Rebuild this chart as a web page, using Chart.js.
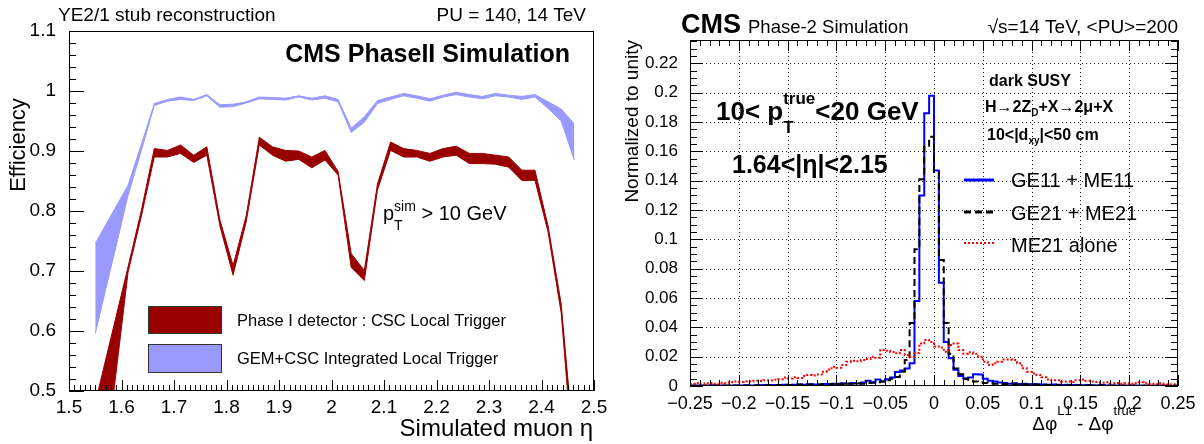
<!DOCTYPE html>
<html>
<head>
<meta charset="utf-8">
<script src="https://cdn.jsdelivr.net/npm/chart.js@4.4.0/dist/chart.umd.min.js"></script>
<style>
    html, body { margin: 0; padding: 0; background: #fff; }
    #wrap { position: relative; width: 1204px; height: 444px; overflow: hidden; }
    #left { position: absolute; left: 0; top: 0; }
    #right { position: absolute; left: 610px; top: 0; }
</style>
</head>
<body>
<div id="wrap">
    <canvas id="left" width="610" height="444"></canvas>
    <canvas id="right" width="594" height="444"></canvas>
</div>
<script>
// Left panel : stub reconstruction efficiency vs simulated muon eta
var etaPoints = [1.55, 1.6125, 1.6375, 1.6625, 1.6875, 1.7125, 1.7375, 1.7625, 1.7875, 1.8125, 1.8375, 1.8625,
    1.8875, 1.9125, 1.9375, 1.9625, 1.9875, 2.0125, 2.0375, 2.0625, 2.0875, 2.1125, 2.1375, 2.1625, 2.1875,
    2.2125, 2.2375, 2.2625, 2.2875, 2.3125, 2.3375, 2.3625, 2.3875, 2.4125, 2.4375, 2.4625];
var cscLow = [0.24, 0.698, 0.790, 0.890, 0.890, 0.896, 0.881, 0.893, 0.775, 0.693, 0.782, 0.910,
    0.893, 0.883, 0.886, 0.872, 0.885, 0.860, 0.706, 0.684, 0.835, 0.901, 0.890, 0.890, 0.883,
    0.890, 0.893, 0.879, 0.879, 0.878, 0.873, 0.851, 0.851, 0.765, 0.630, 0.36];
var cscHigh = [0.48, 0.707, 0.800, 0.904, 0.901, 0.910, 0.893, 0.907, 0.785, 0.709, 0.792, 0.923,
    0.907, 0.901, 0.900, 0.890, 0.901, 0.866, 0.729, 0.701, 0.845, 0.915, 0.904, 0.901, 0.896,
    0.904, 0.908, 0.896, 0.896, 0.893, 0.890, 0.868, 0.868, 0.775, 0.645, 0.40];
var gemLow = [0.596, 0.826, 0.900, 0.976, 0.983, 0.986, 0.984, 0.992, 0.973, 0.974, 0.980, 0.987,
    0.986, 0.985, 0.990, 0.985, 0.988, 0.982, 0.931, 0.948, 0.979, 0.986, 0.992, 0.988, 0.983,
    0.990, 0.994, 0.990, 0.987, 0.992, 0.990, 0.986, 0.990, 0.971, 0.950, 0.885];
var gemHigh = [0.746, 0.843, 0.910, 0.979, 0.986, 0.990, 0.986, 0.994, 0.977, 0.978, 0.982, 0.990,
    0.989, 0.988, 0.992, 0.988, 0.992, 0.986, 0.938, 0.957, 0.984, 0.990, 0.996, 0.992, 0.987,
    0.993, 0.998, 0.994, 0.991, 0.996, 0.993, 0.991, 0.994, 0.982, 0.970, 0.945];
var etaTicks = [1.5, 1.6, 1.7, 1.8, 1.9, 2.0, 2.1, 2.2, 2.3, 2.4, 2.5];
var effTicks = [0.5, 0.6, 0.7, 0.8, 0.9, 1.0, 1.1];

// Right panel : delta phi resolution, 100 bins from -0.25 to 0.25
var binLow = -0.25, binWidth = 0.005;
var ge11Me11 = [
    0.0003, 0.0002, 0.0004, 0.0003, 0.0002, 0.0005, 0.0003, 0.0004, 0.0002, 0.0003,
    0.0004, 0.0003, 0.0005, 0.0004, 0.0003, 0.0005, 0.0006, 0.0004, 0.0007, 0.0006,
    0.0008, 0.0006, 0.0009, 0.0010, 0.0008, 0.0012, 0.0010, 0.0011, 0.0013, 0.0012,
    0.0015, 0.0013, 0.0018, 0.0016, 0.0020, 0.0017, 0.0024, 0.0036, 0.0026, 0.0045,
    0.0031, 0.0046, 0.0058, 0.0095, 0.0105, 0.0120, 0.0155, 0.0580, 0.1300, 0.1860,
    0.1980, 0.1470, 0.0705, 0.0300, 0.0190, 0.0110, 0.0068, 0.0052, 0.0058, 0.0080,
    0.0078, 0.0050, 0.0036, 0.0030, 0.0024, 0.0020, 0.0016, 0.0018, 0.0013, 0.0015,
    0.0012, 0.0014, 0.0010, 0.0011, 0.0009, 0.0010, 0.0008, 0.0007, 0.0009, 0.0006,
    0.0007, 0.0005, 0.0006, 0.0005, 0.0004, 0.0006, 0.0004, 0.0003, 0.0004, 0.0003,
    0.0003, 0.0002, 0.0003, 0.0002, 0.0003, 0.0002, 0.0002, 0.0003, 0.0002, 0.0002];
var ge21Me21 = [
    0.0002, 0.0003, 0.0002, 0.0002, 0.0003, 0.0002, 0.0003, 0.0002, 0.0003, 0.0002,
    0.0003, 0.0004, 0.0003, 0.0004, 0.0005, 0.0004, 0.0005, 0.0006, 0.0005, 0.0007,
    0.0008, 0.0007, 0.0009, 0.0010, 0.0008, 0.0011, 0.0012, 0.0010, 0.0013, 0.0012,
    0.0014, 0.0016, 0.0013, 0.0017, 0.0015, 0.0018, 0.0016, 0.0020, 0.0022, 0.0025,
    0.0030, 0.0040, 0.0050, 0.0062, 0.0098, 0.0177, 0.0430, 0.0933, 0.1410, 0.1630,
    0.1700, 0.1460, 0.0860, 0.0430, 0.0220, 0.0120, 0.0080, 0.0050, 0.0035, 0.0030,
    0.0025, 0.0020, 0.0018, 0.0015, 0.0016, 0.0013, 0.0014, 0.0012, 0.0011, 0.0012,
    0.0010, 0.0009, 0.0010, 0.0008, 0.0007, 0.0008, 0.0006, 0.0007, 0.0005, 0.0006,
    0.0005, 0.0004, 0.0005, 0.0004, 0.0003, 0.0004, 0.0003, 0.0003, 0.0002, 0.0003,
    0.0002, 0.0003, 0.0002, 0.0002, 0.0002, 0.0001, 0.0002, 0.0002, 0.0001, 0.0002];
var me21Alone = [
    0.0018, 0.0015, 0.0020, 0.0012, 0.0018, 0.0020, 0.0015, 0.0022, 0.0018, 0.0025,
    0.0030, 0.0028, 0.0032, 0.0030, 0.0036, 0.0034, 0.0040, 0.0038, 0.0042, 0.0046,
    0.0058, 0.0052, 0.0060, 0.0055, 0.0068, 0.0075, 0.0072, 0.0078, 0.0098, 0.0112,
    0.0132, 0.0125, 0.0143, 0.0166, 0.0172, 0.0168, 0.0177, 0.0185, 0.0200, 0.0192,
    0.0246, 0.0240, 0.0232, 0.0223, 0.0246, 0.0212, 0.0200, 0.0225, 0.0290, 0.0314,
    0.0300, 0.0269, 0.0262, 0.0234, 0.0280, 0.0290, 0.0246, 0.0220, 0.0230, 0.0220,
    0.0200, 0.0166, 0.0143, 0.0155, 0.0166, 0.0180, 0.0180, 0.0177, 0.0155, 0.0121,
    0.0098, 0.0086, 0.0075, 0.0060, 0.0045, 0.0040, 0.0040, 0.0031, 0.0031, 0.0028,
    0.0040, 0.0045, 0.0036, 0.0031, 0.0028, 0.0023, 0.0025, 0.0018, 0.0020, 0.0015,
    0.0018, 0.0015, 0.0020, 0.0025, 0.0018, 0.0015, 0.0012, 0.0018, 0.0010, 0.0012];
var dphiTicks = [-0.25, -0.2, -0.15, -0.1, -0.05, 0, 0.05, 0.1, 0.15, 0.2, 0.25];
var normTicks = [0, 0.02, 0.04, 0.06, 0.08, 0.1, 0.12, 0.14, 0.16, 0.18, 0.2, 0.22];

Chart.defaults.font.family = "'Liberation Sans', Arial, Helvetica, sans-serif";
Chart.defaults.color = '#000';

var FONT = "'Liberation Sans', Arial, sans-serif";

function fmt(v) {
    var r = +v.toFixed(3);
    return (r < 0 ? '\u2212' : '') + Math.abs(r);
}

function axis(min, max, ticks, size, pad, fit) {
    return {
        type: 'linear', min: min, max: max,
        grid: { display: false }, border: { display: false },
        ticks: { autoSkip: false, maxRotation: 0, padding: pad, font: { size: size }, color: '#000', callback: fmt },
        afterBuildTicks: function (s) { s.ticks = ticks.map(function (v) { return { value: v }; }); },
        afterFit: fit
    };
}

function bandPoints(vals) {
    return etaPoints.map(function (e, i) { return { x: e, y: vals[i] }; });
}

function histPoints(vals) {
    var pts = vals.map(function (v, i) { return { x: binLow + i * binWidth, y: v }; });
    pts.push({ x: binLow + vals.length * binWidth, y: vals[vals.length - 1] });
    return pts;
}

function seg(ctx, x1, y1, x2, y2) {
    ctx.beginPath(); ctx.moveTo(x1, y1); ctx.lineTo(x2, y2); ctx.stroke();
}

function write(ctx, s, x, y, font, align) {
    ctx.font = font; ctx.textAlign = align || 'left'; ctx.textBaseline = 'alphabetic';
    ctx.fillStyle = '#000'; ctx.fillText(s, x, y);
}

// text with sub/superscripts : parts drawn one after another
function writeParts(ctx, parts, x, y, align) {
    var w = 0;
    parts.forEach(function (p) { ctx.font = p.f; if (!p.hold) w += ctx.measureText(p.t).width; });
    var cx = align === 'right' ? x - w : x;
    ctx.textAlign = 'left'; ctx.textBaseline = 'alphabetic'; ctx.fillStyle = '#000';
    parts.forEach(function (p) {
        ctx.font = p.f;
        ctx.fillText(p.t, cx, y + (p.dy || 0));
        if (!p.hold) cx += ctx.measureText(p.t).width;
    });
}

function rotated(ctx, s, x, y, font, align) {
    ctx.save(); ctx.translate(x, y); ctx.rotate(-Math.PI / 2);
    ctx.font = font; ctx.textAlign = align; ctx.textBaseline = 'middle'; ctx.fillStyle = '#000';
    ctx.fillText(s, 0, 0);
    ctx.restore();
}

var leftDecor = {
    id: 'leftDecor',
    afterDatasetsDraw: function (chart) {
        var ctx = chart.ctx, a = chart.chartArea, xs = chart.scales.x, ys = chart.scales.y;
        ctx.save();
        ctx.strokeStyle = '#000'; ctx.lineWidth = 1;
        ctx.strokeRect(a.left + 0.5, a.top + 0.5, a.right - a.left - 1, a.bottom - a.top - 1);
        for (var k = 0; k <= 30; k++) {
            var y = Math.round(ys.getPixelForValue(0.5 + k * 0.02)) + 0.5;
            seg(ctx, a.left, y, a.left + (k % 5 ? 7 : 15), y);
        }
        for (k = 0; k <= 100; k++) {
            var x = Math.round(xs.getPixelForValue(1.5 + k * 0.01)) + 0.5;
            seg(ctx, x, a.bottom, x, a.bottom - (k % 10 ? 6 : 11));
        }
        ctx.restore();
    },
    afterDraw: function (chart) {
        var ctx = chart.ctx;
        ctx.save();
        write(ctx, 'YE2/1 stub reconstruction', 58, 21, '19px ' + FONT);
        write(ctx, 'PU = 140, 14 TeV', 586, 21, '19px ' + FONT, 'right');
        write(ctx, 'CMS PhaseII Simulation', 570, 62, 'bold 25px ' + FONT, 'right');
        writeParts(ctx, [
            { t: 'p', f: '20px ' + FONT },
            { t: 'T', f: '14px ' + FONT, dy: 10, hold: true },
            { t: 'sim', f: '14px ' + FONT, dy: -9 },
            { t: ' > 10 GeV', f: '20px ' + FONT }
        ], 383, 220);
        // legend
        ctx.lineWidth = 1; ctx.strokeStyle = '#333';
        ctx.fillStyle = '#990000'; ctx.fillRect(148, 306, 73, 27); ctx.strokeRect(148.5, 306.5, 73, 27);
        ctx.fillStyle = '#9999ff'; ctx.fillRect(148, 344, 73, 28); ctx.strokeRect(148.5, 344.5, 73, 28);
        write(ctx, 'Phase I detector : CSC Local Trigger', 237, 326, '16.5px ' + FONT);
        write(ctx, 'GEM+CSC Integrated Local Trigger', 237, 364, '16.5px ' + FONT);
        rotated(ctx, 'Efficiency', 19, 145, '22px ' + FONT, 'center');
        write(ctx, 'Simulated muon \u03b7', 593, 436, '24px ' + FONT, 'right');
        ctx.restore();
    }
};

var rightDecor = {
    id: 'rightDecor',
    beforeDatasetsDraw: function (chart) {
        var ctx = chart.ctx, a = chart.chartArea, xs = chart.scales.x, ys = chart.scales.y;
        ctx.save();
        ctx.strokeStyle = '#222'; ctx.lineWidth = 1; ctx.setLineDash([1, 3]);
        dphiTicks.forEach(function (v) {
            if (v <= -0.25 || v >= 0.25) return;
            var x = Math.round(xs.getPixelForValue(v)) + 0.5;
            seg(ctx, x, a.top, x, a.bottom);
        });
        normTicks.forEach(function (v) {
            if (v <= 0) return;
            var y = Math.round(ys.getPixelForValue(v)) + 0.5;
            seg(ctx, a.left, y, a.right, y);
        });
        ctx.restore();
    },
    afterDatasetsDraw: function (chart) {
        var ctx = chart.ctx, a = chart.chartArea, xs = chart.scales.x, ys = chart.scales.y;
        ctx.save();
        ctx.strokeStyle = '#000'; ctx.lineWidth = 1;
        ctx.strokeRect(a.left + 0.5, a.top + 0.5, a.right - a.left - 1, a.bottom - a.top - 1);
        for (var k = 0; k * 0.005 <= 0.236; k++) {
            var y = Math.round(ys.getPixelForValue(k * 0.005)) + 0.5, len = k % 4 ? 7 : 13;
            seg(ctx, a.left, y, a.left + len, y);
            seg(ctx, a.right, y, a.right - len, y);
        }
        for (k = 0; k <= 50; k++) {
            var x = Math.round(xs.getPixelForValue(-0.25 + k * 0.01)) + 0.5, l2 = k % 5 ? 6 : 11;
            seg(ctx, x, a.bottom, x, a.bottom - l2);
            seg(ctx, x, a.top, x, a.top + l2);
        }
        ctx.restore();
    },
    afterDraw: function (chart) {
        var ctx = chart.ctx;
        ctx.save();
        write(ctx, 'CMS', 71, 33, 'bold 27px ' + FONT);
        write(ctx, 'Phase-2 Simulation', 138, 33, '18.5px ' + FONT);
        write(ctx, '\u221as=14 TeV, <PU>=200', 568, 33, '19px ' + FONT, 'right');
        rotated(ctx, 'Normalized to unity', 23, 40, '19px ' + FONT, 'right');
        writeParts(ctx, [
            { t: '10< p', f: 'bold 26px ' + FONT },
            { t: 'T', f: 'bold 17px ' + FONT, dy: 13, hold: true },
            { t: 'true', f: 'bold 17px ' + FONT, dy: -16 },
            { t: '<20 GeV', f: 'bold 26px ' + FONT }
        ], 106, 120);
        write(ctx, '1.64<|\u03b7|<2.15', 122, 173, 'bold 25px ' + FONT);
        write(ctx, 'dark SUSY', 379, 86, 'bold 16px ' + FONT);
        writeParts(ctx, [
            { t: 'H\u21922Z', f: 'bold 16px ' + FONT },
            { t: 'D', f: 'bold 10px ' + FONT, dy: 4 },
            { t: '+X\u21922\u03bc+X', f: 'bold 16px ' + FONT }
        ], 375, 112);
        writeParts(ctx, [
            { t: '10<|d', f: 'bold 16px ' + FONT },
            { t: 'xy', f: 'bold 10px ' + FONT, dy: 4 },
            { t: '|<50 cm', f: 'bold 16px ' + FONT }
        ], 377, 140);
        // legend
        ctx.lineWidth = 3;
        ctx.strokeStyle = '#0000ff'; seg(ctx, 354, 180, 384, 180);
        ctx.strokeStyle = '#000'; ctx.setLineDash([7, 4]); seg(ctx, 354, 212, 384, 212);
        ctx.strokeStyle = '#ff0000'; ctx.lineWidth = 2; ctx.setLineDash([2, 2]); seg(ctx, 354, 243, 384, 243);
        ctx.setLineDash([]);
        write(ctx, 'GE11 + ME11', 401, 187, '20px ' + FONT);
        write(ctx, 'GE21 + ME21', 401, 220, '20px ' + FONT);
        write(ctx, 'ME21 alone', 401, 252, '20px ' + FONT);
        writeParts(ctx, [
            { t: '\u0394\u03c6', f: '19px ' + FONT },
            { t: 'L1', f: '13px ' + FONT, dy: -15 },
            { t: ' - \u0394\u03c6', f: '19px ' + FONT },
            { t: 'true', f: '13px ' + FONT, dy: -15 }
        ], 526, 430, 'right');
        ctx.restore();
    }
};

new Chart(document.getElementById('left').getContext('2d'), {
    type: 'line',
    data: {
        datasets: [
            { data: bandPoints(gemHigh), borderColor: '#9999ff', backgroundColor: '#9999ff', borderWidth: 1, fill: '+1', pointRadius: 0, tension: 0 },
            { data: bandPoints(gemLow), borderColor: '#9999ff', borderWidth: 1, fill: false, pointRadius: 0, tension: 0 },
            { data: bandPoints(cscHigh), borderColor: '#990000', backgroundColor: '#990000', borderWidth: 1, fill: '+1', pointRadius: 0, tension: 0 },
            { data: bandPoints(cscLow), borderColor: '#990000', borderWidth: 1, fill: false, pointRadius: 0, tension: 0 }
        ]
    },
    options: {
        responsive: false, animation: false, devicePixelRatio: 1,
        layout: { padding: { left: 0, right: 16, top: 31, bottom: 0 } },
        plugins: { legend: { display: false }, tooltip: { enabled: false } },
        scales: {
            x: axis(1.5, 2.5, etaTicks, 19, -3, function (s) { s.height = 53; }),
            y: axis(0.5, 1.1, effTicks, 19, 5, function (s) { s.width = 69; })
        }
    },
    plugins: [leftDecor]
});

new Chart(document.getElementById('right').getContext('2d'), {
    type: 'line',
    data: {
        datasets: [
            { data: histPoints(me21Alone), borderColor: '#ff0000', borderWidth: 2, borderDash: [2, 2], stepped: 'after', pointRadius: 0, fill: false },
            { data: histPoints(ge21Me21), borderColor: '#000000', borderWidth: 2, borderDash: [7, 4], stepped: 'after', pointRadius: 0, fill: false },
            { data: histPoints(ge11Me11), borderColor: '#0000ff', borderWidth: 2, stepped: 'after', pointRadius: 0, fill: false }
        ]
    },
    options: {
        responsive: false, animation: false, devicePixelRatio: 1,
        layout: { padding: { left: 0, right: 26, top: 40, bottom: 0 } },
        plugins: { legend: { display: false }, tooltip: { enabled: false } },
        scales: {
            x: axis(-0.25, 0.25, dphiTicks, 18, -1, function (s) { s.height = 58; }),
            y: axis(0, 0.236, normTicks, 17, 4, function (s) { s.width = 80; })
        }
    },
    plugins: [rightDecor]
});
</script>
</body>
</html>
